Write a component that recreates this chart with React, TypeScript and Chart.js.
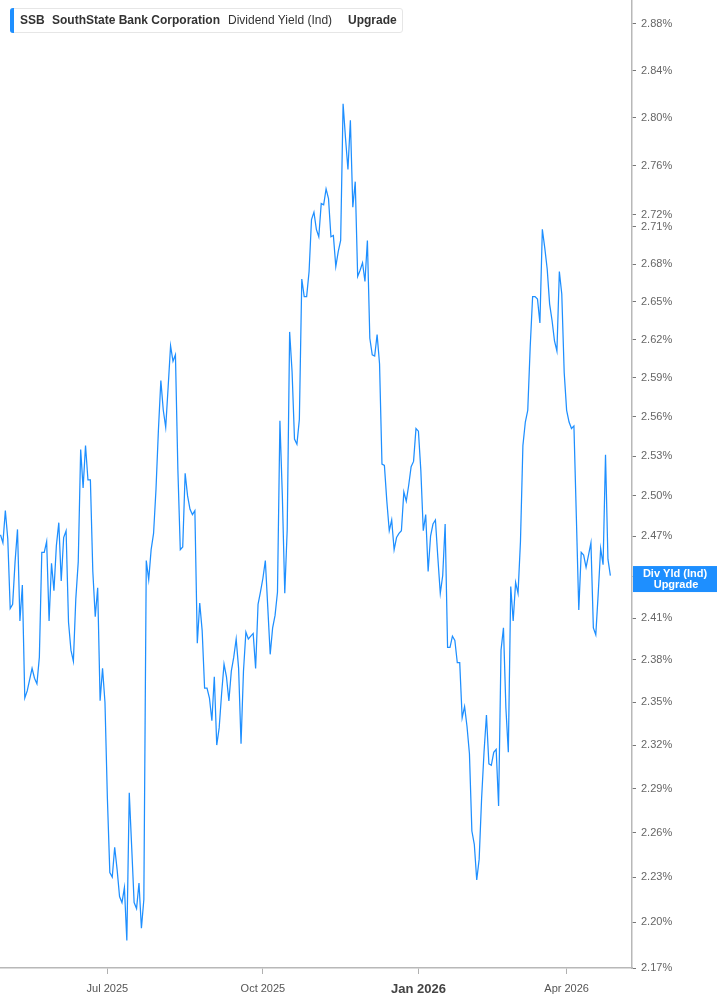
import React, { useEffect, useRef } from 'react';
import { Chart, registerables } from 'chart.js';

Chart.register(...registerables);

// Dividend yield (Ind), one value per trading day, in percent
const yieldValues: number[] = [
  2.471, 2.465, 2.489, 2.468, 2.417, 2.420, 2.451, 2.475, 2.408, 2.434,
  2.353, 2.358, 2.366, 2.374, 2.367, 2.363, 2.382, 2.458, 2.458, 2.466,
  2.408, 2.450, 2.430, 2.463, 2.480, 2.437, 2.469, 2.474, 2.407, 2.387,
  2.379, 2.424, 2.451, 2.535, 2.506, 2.538, 2.512, 2.512, 2.444, 2.411,
  2.432, 2.351, 2.374, 2.350, 2.283, 2.233, 2.230, 2.250, 2.235, 2.217,
  2.213, 2.223, 2.188, 2.287, 2.250, 2.213, 2.209, 2.226, 2.196, 2.215,
  2.452, 2.438, 2.460, 2.472, 2.505, 2.550, 2.588, 2.565, 2.552, 2.583,
  2.615, 2.603, 2.608, 2.520, 2.460, 2.462, 2.517, 2.500, 2.490, 2.486,
  2.489, 2.392, 2.421, 2.401, 2.360, 2.360, 2.353, 2.337, 2.368, 2.320,
  2.332, 2.356, 2.377, 2.368, 2.351, 2.372, 2.382, 2.395, 2.374, 2.321,
  2.372, 2.400, 2.395, 2.397, 2.399, 2.374, 2.420, 2.429, 2.439, 2.452,
  2.418, 2.384, 2.403, 2.412, 2.429, 2.557, 2.500, 2.428, 2.475, 2.626,
  2.595, 2.543, 2.539, 2.558, 2.668, 2.654, 2.654, 2.674, 2.716, 2.722,
  2.708, 2.702, 2.729, 2.728, 2.741, 2.733, 2.702, 2.703, 2.678, 2.690,
  2.699, 2.812, 2.783, 2.757, 2.798, 2.726, 2.747, 2.670, 2.675, 2.681,
  2.666, 2.699, 2.621, 2.608, 2.607, 2.624, 2.601, 2.524, 2.523, 2.496,
  2.474, 2.482, 2.460, 2.469, 2.472, 2.474, 2.503, 2.496, 2.508, 2.522,
  2.526, 2.551, 2.549, 2.519, 2.474, 2.486, 2.444, 2.470, 2.479, 2.482,
  2.454, 2.428, 2.441, 2.479, 2.389, 2.389, 2.397, 2.394, 2.378, 2.378,
  2.339, 2.347, 2.333, 2.314, 2.261, 2.252, 2.228, 2.242, 2.283, 2.315,
  2.341, 2.307, 2.306, 2.315, 2.317, 2.278, 2.387, 2.403, 2.346, 2.315,
  2.433, 2.408, 2.436, 2.428, 2.466, 2.538, 2.556, 2.565, 2.614, 2.654,
  2.654, 2.652, 2.633, 2.708, 2.693, 2.676, 2.648, 2.635, 2.619, 2.611,
  2.674, 2.656, 2.594, 2.565, 2.556, 2.551, 2.553, 2.484, 2.416, 2.458,
  2.456, 2.447, 2.456, 2.465, 2.403, 2.398, 2.428, 2.461, 2.449, 2.531,
  2.453, 2.441,
];

// Trading-day index of the first session of each labelled month
const xTickIndex: number[] = [44, 108, 172, 233];
const xTickLabels: string[] = ['Jul 2025', 'Oct 2025', 'Jan 2026', 'Apr 2026'];
const boldXLabel = 'Jan 2026';

const yTickValues: number[] = [
  2.17, 2.2, 2.23, 2.26, 2.29, 2.32, 2.35, 2.38, 2.41, 2.44, 2.47, 2.5,
  2.53, 2.56, 2.59, 2.62, 2.65, 2.68, 2.71, 2.72, 2.76, 2.8, 2.84, 2.88,
];
const yMin = 2.17;
const yMax = 2.9008;
const xMin = -0.2;
const xMax = 259.9;

const ticker = 'SSB';
const companyName = 'SouthState Bank Corporation';
const metricName = 'Dividend Yield (Ind)';
const upgradeText = 'Upgrade';
const endLabelLines: string[] = ['Div Yld (Ind)', 'Upgrade'];

const BLUE = '#1e8fff';
const FONT = '"Liberation Sans", Arial, Helvetica, sans-serif';

const endLabelPlugin = {
  id: 'endLabel',
  afterDraw(chart: any) {
    const { ctx, chartArea } = chart;
    const yScale = chart.scales.y;
    const last = yieldValues[yieldValues.length - 1];
    const cy = yScale.getPixelForValue(last) + 3.5;
    const x0 = chartArea.right + 1;
    const w = chart.width - x0;
    const h = 26;
    ctx.save();
    ctx.fillStyle = BLUE;
    ctx.fillRect(x0, cy - h / 2, w, h);
    ctx.fillStyle = '#ffffff';
    ctx.font = `bold 11px ${FONT}`;
    ctx.textAlign = 'center';
    ctx.textBaseline = 'middle';
    ctx.fillText(endLabelLines[0], x0 + w / 2, cy - 5.5);
    ctx.fillText(endLabelLines[1], x0 + w / 2 + 1, cy + 6);
    ctx.restore();
  },
};

function ChartView() {
  const canvasRef = useRef<HTMLCanvasElement | null>(null);

  useEffect(() => {
    const canvas = canvasRef.current;
    if (!canvas) return;
    const chart = new Chart(canvas, {
      type: 'line',
      data: {
        datasets: [
          {
            data: yieldValues.map((v, i) => ({ x: i, y: v })),
            borderColor: BLUE,
            borderWidth: 1.25,
            pointRadius: 0,
            tension: 0,
            fill: false,
          },
        ],
      },
      options: {
        animation: false,
        responsive: false,
        devicePixelRatio: 1,
        layout: { padding: 0 },
        plugins: {
          legend: { display: false },
          tooltip: { enabled: false },
        },
        scales: {
          x: {
            type: 'linear',
            min: xMin,
            max: xMax,
            afterBuildTicks: (scale: any) => {
              scale.ticks = xTickIndex.map((v) => ({ value: v }));
            },
            afterFit: (scale: any) => {
              scale.height = 37;
              scale.paddingLeft = 0;
              scale.paddingRight = 0;
            },
            border: { display: true, color: '#b8b8b8', width: 1.5 },
            grid: {
              drawOnChartArea: false,
              drawTicks: true,
              tickLength: 6,
              tickColor: '#b0b0b0',
              tickWidth: 1,
            },
            ticks: {
              autoSkip: false,
              maxRotation: 0,
              padding: 8,
              callback: (value: any) => {
                const k = xTickIndex.indexOf(Number(value));
                return k >= 0 ? xTickLabels[k] : '';
              },
              color: (ctx: any) =>
                ctx.tick && ctx.tick.label === boldXLabel ? '#444444' : '#555555',
              font: (ctx: any) =>
                ctx.tick && ctx.tick.label === boldXLabel
                  ? { family: FONT, size: 13, weight: 'bold' }
                  : { family: FONT, size: 11, weight: 'normal' },
            },
          },
          y: {
            type: 'logarithmic',
            position: 'right',
            min: yMin,
            max: yMax,
            afterBuildTicks: (scale: any) => {
              scale.ticks = yTickValues.map((v) => ({ value: v }));
            },
            afterFit: (scale: any) => {
              scale.width = 85;
              scale.paddingTop = 0;
              scale.paddingBottom = 0;
            },
            border: { display: true, color: '#b8b8b8', width: 1.5 },
            grid: {
              drawOnChartArea: false,
              drawTicks: true,
              tickLength: 4,
              tickColor: '#777777',
              tickWidth: 1,
            },
            ticks: {
              autoSkip: false,
              padding: 5,
              color: '#666666',
              font: { family: FONT, size: 11 },
              callback: (value: any) => `${Number(value).toFixed(2)}%`,
            },
          },
        },
      },
      plugins: [endLabelPlugin],
    } as any);
    return () => chart.destroy();
  }, []);

  return <canvas ref={canvasRef} width={717} height={1005} style={{ display: 'block' }} />;
}

function LegendBox() {
  const base: React.CSSProperties = {
    position: 'absolute',
    top: -1,
    lineHeight: '25px',
    fontFamily: FONT,
    fontSize: 12,
    color: '#333333',
    whiteSpace: 'nowrap',
  };
  return (
    <div
      style={{
        position: 'absolute',
        left: 10,
        top: 8,
        width: 393,
        height: 25,
        background: '#ffffff',
        border: '1px solid #e6e6e6',
        borderRadius: 3,
        boxSizing: 'border-box',
      }}
    >
      <div
        style={{
          position: 'absolute',
          left: -1,
          top: -1,
          width: 4,
          height: 25,
          background: BLUE,
          borderRadius: '3px 0 0 3px',
        }}
      />
      <span style={{ ...base, left: 9, fontWeight: 'bold' }}>{ticker}</span>
      <span style={{ ...base, left: 41, fontWeight: 'bold' }}>{companyName}</span>
      <span style={{ ...base, left: 217 }}>{metricName}</span>
      <span style={{ ...base, left: 337, fontWeight: 'bold' }}>{upgradeText}</span>
    </div>
  );
}

export default function App() {
  return (
    <div style={{ position: 'absolute', left: 0, top: 0, width: 717, height: 1005, background: '#ffffff' }}>
      <ChartView />
      <LegendBox />
    </div>
  );
}
